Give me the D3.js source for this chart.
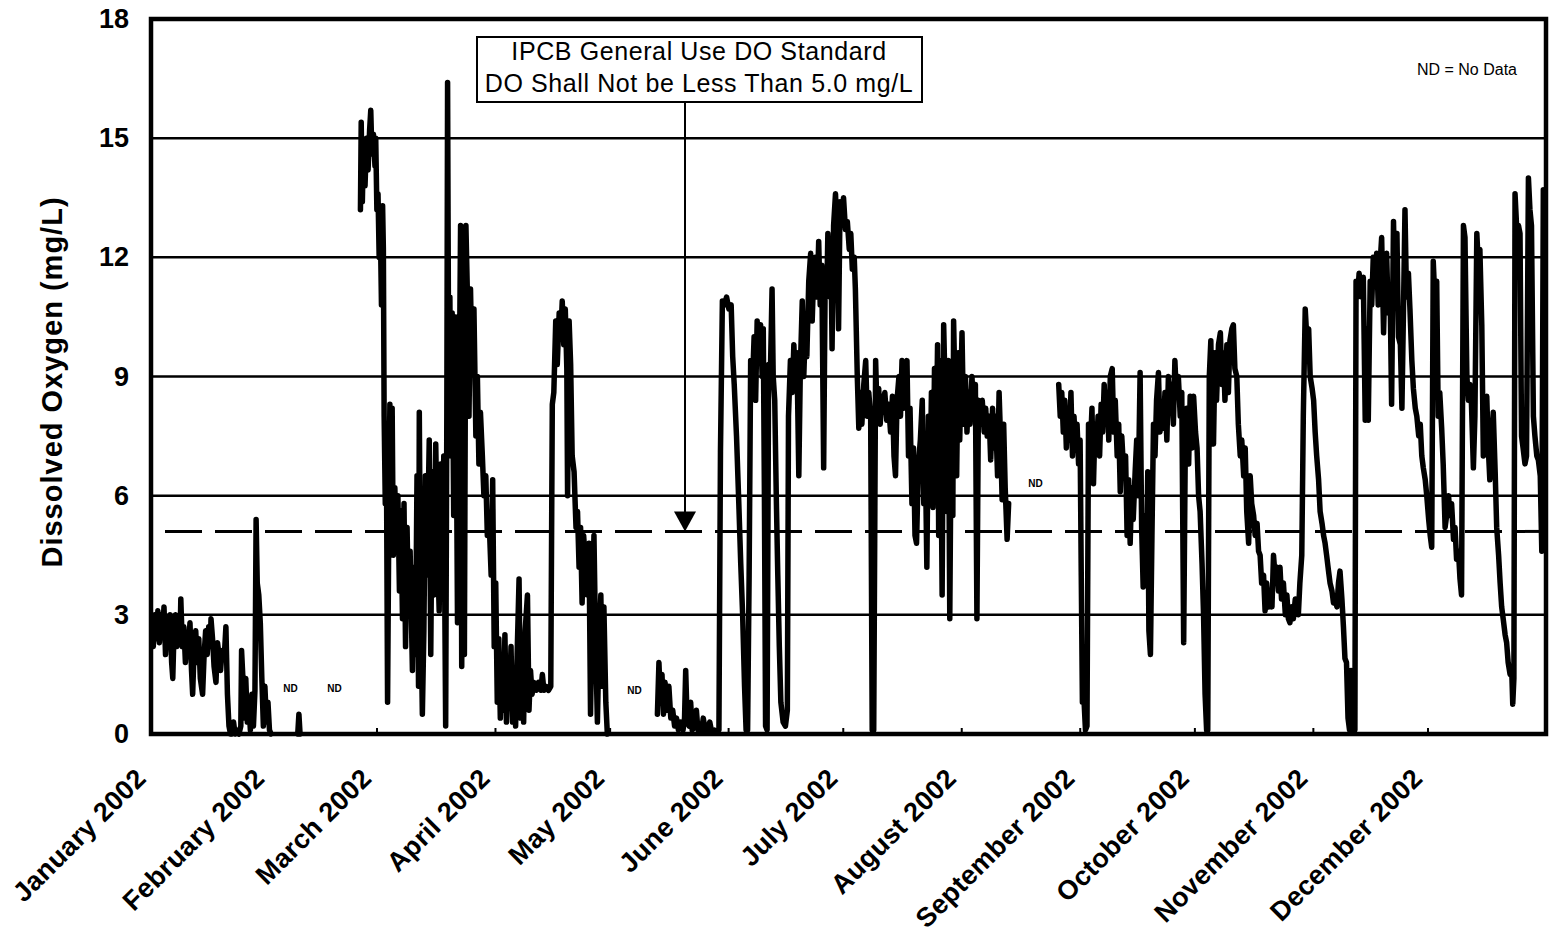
<!DOCTYPE html>
<html>
<head>
<meta charset="utf-8">
<script src="https://cdn.jsdelivr.net/npm/d3@7"></script>
<style>
  body { margin: 0; background: #fff; }
  svg { display: block; font-family: "Liberation Sans", Arial, Helvetica, sans-serif; }
</style>
</head>
<body>
<script>
var monthLabels = ['January 2002', 'February 2002', 'March 2002', 'April 2002', 'May 2002', 'June 2002',
    'July 2002', 'August 2002', 'September 2002', 'October 2002', 'November 2002', 'December 2002']
var yTicks = [0, 3, 6, 9, 12, 15, 18]
var gridValues = [3, 6, 9, 12, 15]
var standardDO = 5.1

// where the "ND" notes sit (day of year, mg/L)
var ndDays = [36.5, 48.0, 126.5, 231.4]
var ndValues = [1.15, 1.15, 1.1, 6.3]

// DO readings as [day of 2002, mg/L], one array per unbroken record
var janRecord = [[0.2,2.6],[0.6,2.2],[1,3.0],[1.4,2.4],[1.8,3.1],[2.2,2.3],[2.6,3.0],[3,2.5],[3.4,3.2],[3.8,2.0],[4.2,2.9],[4.6,2.3],[5,3.0],[5.4,1.8],[5.7,1.4],[6,2.5],[6.4,3.0],[6.8,2.2],[7.2,2.8],[7.6,2.4],[7.8,3.4],[8.2,2.2],[8.6,2.7],[9,1.8],[9.4,2.4],[9.8,2.2],[10.2,2.8],[10.6,1.6],[10.9,1.0],[11.3,2.2],[11.7,2.6],[12.1,1.8],[12.5,2.4],[12.9,1.4],[13.5,1.0],[13.9,2.0],[14.3,2.6],[14.7,2.0],[15.1,2.7],[15.5,2.2],[15.7,2.9],[16.1,2.4],[16.5,1.7],[17,1.3],[17.4,2.3],[17.8,2.0],[18.2,1.6],[18.6,2.1],[19.2,2.0],[19.6,2.7],[20,1.0],[20.4,0.2],[20.8,0],[21.2,0],[21.6,0.3],[22,0],[22.4,0.1],[23,0],[23.5,0.2],[23.7,2.1],[24,1.5],[24.4,0.4],[24.8,1.4],[25.2,0.3],[25.6,0.8],[26,0.1],[26.4,1.0],[26.8,0.2],[27.2,1.1],[27.5,5.4],[27.8,3.8],[28.2,3.5],[28.6,2.8],[29,1.4],[29.4,0.2],[29.8,1.2],[30.2,0.3],[30.6,0.8],[31,0.1],[31.4,0]]

var febRecord = [[38.4,0],[38.7,0.5],[39,0]]

var marAprRecord = [[54.8,13.2],[55,15.4],[55.3,13.4],[55.6,14.8],[56,13.8],[56.4,15.0],[56.8,14.2],[57.2,15.2],[57.5,15.7],[57.8,14.6],[58.2,15.1],[58.6,14.3],[58.8,15.0],[59.1,13.2],[59.4,13.6],[59.7,12.0],[60,12.8],[60.3,10.8],[60.6,13.3],[60.8,12.2],[61,8.0],[61.3,5.8],[61.6,6.9],[61.9,0.8],[62.2,5.0],[62.5,8.3],[62.8,6.2],[63.1,8.2],[63.4,4.5],[63.8,6.2],[64.2,4.8],[64.6,6.0],[65,3.6],[65.4,5.6],[65.8,2.9],[66.2,5.8],[66.6,2.2],[67,5.2],[67.4,3.0],[67.8,4.6],[68.4,1.6],[68.8,4.2],[69.2,2.0],[69.6,6.5],[70,1.2],[70.2,8.1],[70.5,3.8],[71,0.5],[71.4,2.6],[71.8,6.5],[72.2,4.0],[72.8,7.4],[73.2,2.0],[73.6,6.6],[74,3.5],[74.5,7.3],[75,4.5],[75.4,3.1],[75.8,6.8],[76.2,4.0],[76.6,7.0],[77.1,0.2],[77.4,8.0],[77.6,16.4],[77.9,8.5],[78.2,11.0],[78.5,7.0],[78.8,10.6],[79.2,5.5],[79.7,10.5],[80.2,2.8],[80.6,8.0],[81,12.8],[81.3,1.7],[81.7,11.0],[82,2.0],[82.4,12.8],[82.8,11.0],[83.2,8.0],[83.6,11.2],[84,9.2],[84.5,10.7],[85,7.5],[85.4,9.0],[85.8,6.8],[86.2,8.1],[86.7,7.0],[87.1,6.0],[87.6,6.5],[88,5.0],[88.5,5.3],[89,4.0],[89.4,6.4],[89.8,2.2],[90.2,3.8],[90.6,0.8],[91,2.4],[91.4,0.4],[91.8,1.8],[92.2,0.6],[92.6,2.5],[93,0.3],[93.4,1.6],[93.8,0.9],[94.2,2.2],[94.6,0.3],[95,1.4],[95.4,0.2],[95.8,2.0],[96.3,3.9],[96.7,0.4],[97.1,1.8],[97.5,0.3],[97.9,2.6],[98.5,3.5],[98.9,0.6],[99.3,1.6],[99.7,1.0],[100.2,1.3],[100.8,1.1],[101.4,1.3],[102,1.1],[102.4,1.5],[102.8,1.1],[103.4,1.2],[104,1.1],[104.6,1.2],[105,8.3],[105.4,8.6],[105.9,10.4],[106.3,9.3],[106.8,10.6],[107.2,10.0],[107.6,10.9],[108,9.8],[108.4,10.7],[108.8,9.2],[109,6.0],[109.4,10.4],[109.8,9.3],[110.2,7.0],[110.7,6.6],[111.2,5.2],[111.6,5.6],[112,4.2],[112.4,5.2],[112.8,3.3],[113.2,5.0],[113.6,4.4],[114.2,3.5],[114.6,4.8],[115,0.5],[115.4,2.8],[115.9,5.0],[116.3,2.5],[116.8,0.3],[117.2,2.2],[117.7,3.5],[118.1,1.2],[118.5,3.2],[119,0.8],[119.4,0]]

var mayAugRecord = [[132.5,0.5],[132.9,1.8],[133.3,0.8],[133.7,1.5],[134.1,0.5],[134.5,1.3],[135,0.6],[135.5,1.2],[136,0.4],[136.5,0.6],[137,0.2],[137.5,0.4],[138,0.1],[138.6,0.3],[139.2,0.1],[139.6,0.4],[139.9,1.6],[140.3,0.3],[140.8,0.2],[141.2,0.8],[141.6,0.1],[142.2,0.2],[142.7,0.6],[143.1,0.1],[143.6,0.2],[144.1,0.1],[144.5,0.4],[145,0.1],[145.6,0.1],[146.2,0.3],[146.7,0.05],[147.4,0.1],[148,0.05],[148.6,0.1],[149,7.1],[149.5,10.9],[150,10.8],[150.6,11.0],[151.2,10.7],[151.8,10.8],[152.2,9.5],[152.6,8.8],[153.2,7.5],[153.8,5.8],[154.3,4.3],[154.8,3.0],[155.3,1.2],[155.7,0.1],[156.1,0.1],[156.5,4.0],[156.9,9.4],[157.3,8.6],[157.8,10.0],[158.2,8.4],[158.6,10.4],[159,9.4],[159.5,10.3],[159.9,9.0],[160.2,10.2],[160.5,6.0],[160.8,0.2],[161.2,0.1],[161.6,9.3],[162,8.8],[162.5,11.2],[162.8,9.0],[163.2,8.4],[163.6,6.0],[164,4.0],[164.4,2.2],[164.8,0.8],[165.4,0.3],[166,0.2],[166.5,0.6],[166.8,8.0],[167.3,9.4],[167.8,8.6],[168.2,9.8],[168.6,8.8],[169,9.6],[169.5,6.5],[169.9,9.2],[170.4,10.9],[170.8,9.0],[171.2,10.2],[171.6,9.5],[172.1,11.4],[172.6,12.1],[173,10.4],[173.4,11.6],[173.9,12.0],[174.3,11.0],[174.7,12.4],[175.1,10.8],[175.5,11.8],[176,6.7],[176.4,11.5],[176.8,11.0],[177.1,12.6],[177.5,11.5],[177.9,12.2],[178.2,9.7],[178.6,12.8],[179.1,13.6],[179.5,12.6],[179.9,10.2],[180.3,13.4],[180.7,12.8],[181.2,13.5],[181.7,12.7],[182.2,12.9],[182.7,12.2],[183.1,12.6],[183.5,11.7],[184,12.0],[184.3,11.2],[184.8,9.0],[185.2,7.7],[185.6,8.6],[186,7.8],[186.5,8.8],[187,9.4],[187.4,8.0],[187.8,8.6],[188.3,8.0],[188.7,0.1],[189.1,0.1],[189.6,9.4],[190,8.0],[190.4,8.7],[190.8,7.8],[191.2,8.5],[191.6,8.1],[192,8.6],[192.5,7.9],[193,8.3],[193.5,7.6],[194,8.5],[194.4,7.0],[194.8,6.5],[195.2,8.4],[195.7,9.0],[196.1,8.0],[196.5,9.4],[196.9,8.2],[197.3,9.0],[197.8,9.4],[198.2,7.0],[198.6,8.2],[199.1,5.8],[199.5,7.2],[199.9,5.0],[200.3,4.8],[200.8,6.8],[201.3,7.4],[201.8,8.4],[202.2,5.8],[202.6,7.0],[203,4.2],[203.4,8.0],[203.8,6.0],[204.2,8.6],[204.6,5.7],[205,9.2],[205.4,6.8],[205.8,9.8],[206.1,5.0],[206.5,9.4],[207,3.5],[207.4,10.3],[207.8,8.6],[208.2,5.6],[208.6,9.4],[209,2.9],[209.4,8.2],[209.8,5.5],[210,10.4],[210.4,8.5],[210.8,6.5],[211.2,9.6],[211.6,7.4],[212.2,10.1],[212.6,7.8],[213.1,9.0],[213.5,7.6],[213.9,8.6],[214.3,7.8],[214.8,9.0],[215.2,8.2],[215.7,8.8],[216.1,2.9],[216.5,8.4],[217,7.8],[217.5,8.4],[218,7.6],[218.4,8.2],[218.8,7.5],[219.3,8.0],[219.7,6.9],[220.2,8.2],[220.6,7.2],[221,8.0],[221.5,6.5],[221.9,8.6],[222.3,7.4],[222.7,5.9],[223.1,7.8],[223.5,6.2],[224,4.9],[224.4,5.8]]

var sepDecRecord = [[237.5,8.8],[237.9,8.0],[238.3,8.6],[238.7,7.6],[239.1,8.4],[239.5,7.2],[239.9,8.2],[240.3,7.4],[240.7,8.6],[241.1,7.0],[241.5,8.0],[241.9,7.2],[242.3,7.8],[242.7,6.8],[243.1,7.4],[243.4,4.0],[243.7,0.8],[244.1,0.9],[244.5,0.1],[244.9,0.2],[245.3,7.8],[245.7,7.0],[246.2,8.2],[246.6,6.3],[247,7.8],[247.4,7.2],[247.8,8.0],[248.2,7.0],[248.6,8.3],[249,7.6],[249.4,8.8],[249.8,7.8],[250.2,8.6],[250.6,7.4],[251,9.0],[251.5,9.2],[251.9,7.6],[252.3,8.4],[252.8,7.0],[253.2,7.8],[253.6,6.1],[254,7.5],[254.5,6.6],[255,7.0],[255.4,5.0],[255.8,6.4],[256.2,4.8],[256.6,6.2],[257,5.4],[257.5,6.6],[257.9,7.4],[258.3,6.0],[258.8,9.1],[259.2,5.2],[259.6,3.7],[260,5.5],[260.4,3.8],[260.8,6.6],[261.1,2.6],[261.5,2.0],[261.9,5.0],[262.3,7.8],[262.7,7.0],[263.1,8.4],[263.6,9.1],[264,7.6],[264.5,8.2],[264.9,7.7],[265.3,8.6],[265.8,7.4],[266.2,9.0],[266.6,8.1],[267,8.8],[267.5,7.8],[267.9,9.4],[268.3,8.5],[268.8,9.0],[269.3,8.0],[269.7,8.6],[270.2,2.3],[270.6,7.0],[271,8.2],[271.5,6.8],[271.9,8.5],[272.4,7.2],[272.8,8.5],[273.3,7.6],[273.7,7.2],[274.1,6.0],[274.5,5.6],[275,4.3],[275.4,3.0],[275.8,1.0],[276.2,0.1],[276.5,0.1],[276.9,9.0],[277.3,9.9],[277.6,8.0],[278,7.3],[278.4,9.6],[278.8,8.4],[279.3,9.8],[279.8,10.1],[280.2,8.8],[280.6,9.6],[281,8.4],[281.5,9.8],[281.9,8.6],[282.3,9.9],[282.8,10.2],[283.2,10.3],[283.6,9.2],[284.1,9.0],[284.5,7.8],[285,7.0],[285.4,7.4],[285.9,6.5],[286.3,7.2],[286.7,5.6],[287.2,4.8],[287.6,6.5],[288,5.8],[288.5,5.5],[288.9,5.0],[289.4,5.3],[289.8,4.6],[290.2,4.5],[290.6,3.8],[291.1,4.0],[291.5,3.1],[291.9,3.8],[292.4,3.2],[292.8,3.6],[293.3,3.2],[293.7,4.5],[294.1,4.0],[294.6,4.2],[295,3.6],[295.4,4.2],[295.8,3.4],[296.3,3.8],[296.8,3.0],[297.2,3.5],[297.6,2.9],[298,2.8],[298.5,3.2],[298.9,2.9],[299.4,3.4],[299.8,3.3],[300.2,3.0],[300.6,3.8],[301.1,4.5],[301.5,8.0],[302,10.7],[302.4,10.0],[302.9,10.2],[303.3,9.0],[303.8,8.7],[304.2,8.4],[304.6,7.6],[305,7.0],[305.5,6.4],[305.9,5.6],[306.4,5.3],[306.8,5.0],[307.2,4.8],[307.6,4.5],[308.1,4.1],[308.5,3.8],[309,3.6],[309.4,3.3],[309.8,3.4],[310.3,3.2],[310.7,3.8],[311.1,4.1],[311.6,3.4],[312,2.7],[312.4,1.9],[312.8,1.8],[313.2,0.4],[313.6,0.1],[314,1.6],[314.4,0.1],[314.8,0.2],[315,0.1],[315.3,11.4],[315.7,11.0],[316.1,11.6],[316.5,11.2],[316.8,11.0],[317.2,11.5],[317.7,7.9],[318.1,10.2],[318.5,7.9],[319,11.4],[319.4,10.8],[319.8,12.0],[320.3,11.4],[320.7,12.1],[321.1,10.8],[321.5,11.7],[322,12.5],[322.5,10.1],[322.9,11.6],[323.3,12.1],[323.7,10.6],[324.2,11.2],[324.6,8.3],[325.1,12.9],[325.5,11.0],[326,12.6],[326.4,10.0],[326.9,9.8],[327.3,8.2],[327.7,10.6],[328.1,13.2],[328.5,11.0],[329,11.6],[329.4,10.7],[329.9,9.4],[330.3,8.7],[330.8,8.2],[331.2,8.0],[331.7,7.5],[332.1,7.8],[332.5,7.0],[332.9,6.7],[333.4,6.4],[333.8,6.0],[334.3,5.4],[334.7,5.0],[335.1,4.7],[335.5,11.9],[335.9,11.0],[336.4,11.4],[336.8,8.0],[337.2,8.6],[337.7,7.7],[338.1,6.8],[338.6,5.2],[339,5.5],[339.5,6.0],[339.9,5.5],[340.3,5.8],[340.8,4.9],[341.2,5.2],[341.6,4.4],[342.1,4.6],[342.5,3.9],[342.9,3.5],[343.4,12.8],[343.8,12.5],[344.3,9.0],[344.7,8.4],[345.1,8.8],[345.5,8.3],[346,6.7],[346.4,8.0],[346.9,12.6],[347.3,11.8],[347.7,12.2],[348.2,10.3],[348.6,7.0],[349,7.8],[349.5,8.5],[349.9,7.2],[350.3,6.4],[350.8,7.4],[351.2,8.1],[351.7,6.6],[352.1,5.2],[352.6,4.5],[353,3.8],[353.4,3.2],[353.8,2.9],[354.3,2.5],[354.7,2.3],[355.1,1.8],[355.6,1.5],[356,1.7],[356.3,0.75],[356.6,1.4],[356.9,13.6],[357.3,12.8],[357.8,12.8],[358.2,12.6],[358.6,7.5],[359,7.2],[359.5,6.8],[359.9,7.0],[360.4,14.0],[360.8,13.2],[361.2,12.8],[361.7,8.0],[362.1,7.5],[362.6,7.0],[363,6.9],[363.5,6.5],[363.9,4.6],[364.3,13.7],[364.8,13.2]]

var records = [janRecord, febRecord, marAprRecord, mayAugRecord, sepDecRecord]

var margin = { top: 19, left: 151, right: 4, bottom: 200 },
    width = 1550, height = 934

var yearStart = new Date(2002, 0, 1)
function dayToDate(d) { return new Date(yearStart.getTime() + d * 864e5) }

var x = d3.scaleTime()
    .domain([yearStart, new Date(2003, 0, 1)])
    .range([margin.left, width - margin.right])

var y = d3.scaleLinear()
    .domain([0, 18])
    .range([height - margin.bottom, margin.top])

var svg = d3.select('body')
    .append('svg')
    .attr('width', width)
    .attr('height', height)

svg.append('rect')
    .attr('width', width)
    .attr('height', height)
    .attr('fill', '#fff')

// horizontal grid
svg.append('g')
    .selectAll('line')
    .data(gridValues)
    .enter().append('line')
    .attr('x1', x.range()[0])
    .attr('x2', x.range()[1])
    .attr('y1', function (d) { return y(d) })
    .attr('y2', function (d) { return y(d) })
    .attr('stroke', '#000')
    .attr('stroke-width', 2.5)

// 5 mg/L standard
svg.append('line')
    .attr('x1', x.range()[0] + 1)
    .attr('x2', x.range()[1])
    .attr('y1', y(standardDO))
    .attr('y2', y(standardDO))
    .attr('stroke', '#000')
    .attr('stroke-width', 3)
    .attr('stroke-dasharray', '37,13')
    .attr('stroke-dashoffset', 37)

var line = d3.line()
    .x(function (d) { return x(dayToDate(d[0])) })
    .y(function (d) { return y(d[1]) })

svg.append('g')
    .selectAll('path')
    .data(records)
    .enter().append('path')
    .attr('d', line)
    .attr('fill', 'none')
    .attr('stroke', '#000')
    .attr('stroke-width', 5.5)
    .attr('stroke-linejoin', 'round')
    .attr('stroke-linecap', 'round')

// y axis labels
var yAxis = d3.axisLeft(y)
    .tickValues(yTicks)
    .tickSize(0)
    .tickPadding(22)
var gy = svg.append('g')
    .attr('transform', 'translate(' + margin.left + ',0)')
    .call(yAxis)
gy.select('.domain').remove()
gy.selectAll('text')
    .attr('font-size', 27)
    .attr('font-weight', 'bold')
    .attr('font-family', '"Liberation Sans", Arial, sans-serif')
    .attr('fill', '#000')

// months
var monthTicks = d3.timeMonth.range(yearStart, new Date(2003, 0, 1))
var xAxis = d3.axisBottom(x)
    .tickValues(monthTicks)
    .tickFormat(function (d, i) { return monthLabels[i] })
    .tickSizeInner(-6)
    .tickSizeOuter(0)
var gx = svg.append('g')
    .attr('transform', 'translate(0,' + y(0) + ')')
    .call(xAxis)
gx.select('.domain').remove()
gx.selectAll('line').attr('stroke', '#000').attr('stroke-width', 2)
gx.selectAll('text')
    .attr('x', 0).attr('y', 0).attr('dy', 0)
    .attr('transform', 'translate(-4,46) rotate(-45)')
    .style('text-anchor', 'end')
    .style('letter-spacing', '0.3px')
    .attr('font-size', 27)
    .attr('font-weight', 'bold')
    .attr('font-family', '"Liberation Sans", Arial, sans-serif')
    .attr('fill', '#000')

// frame
svg.append('rect')
    .attr('x', x.range()[0])
    .attr('y', y.range()[1])
    .attr('width', x.range()[1] - x.range()[0])
    .attr('height', y.range()[0] - y.range()[1])
    .attr('fill', 'none')
    .attr('stroke', '#000')
    .attr('stroke-width', 4.5)

svg.append('text')
    .attr('transform', 'translate(62,382) rotate(-90)')
    .attr('text-anchor', 'middle')
    .attr('font-size', 29)
    .attr('font-weight', 'bold')
    .style('letter-spacing', '1px')
    .text('Dissolved Oxygen (mg/L)')

// ND markers
svg.append('g')
    .selectAll('text')
    .data(ndDays)
    .enter().append('text')
    .attr('x', function (d) { return x(dayToDate(d)) })
    .attr('y', function (d, i) { return y(ndValues[i]) })
    .attr('dy', '0.35em')
    .attr('text-anchor', 'middle')
    .attr('font-size', 10)
    .attr('font-weight', 'bold')
    .text('ND')

svg.append('text')
    .attr('x', 1467)
    .attr('y', 75)
    .attr('text-anchor', 'middle')
    .attr('font-size', 16)
    .text('ND = No Data')

// standard callout
var callout = svg.append('g')
callout.append('rect')
    .attr('x', 477).attr('y', 37)
    .attr('width', 445).attr('height', 65)
    .attr('fill', '#fff')
    .attr('stroke', '#000')
    .attr('stroke-width', 2)
callout.append('text')
    .attr('x', 699).attr('y', 60)
    .attr('text-anchor', 'middle')
    .attr('font-size', 25)
    .style('letter-spacing', '0.6px')
    .text('IPCB General Use DO Standard')
callout.append('text')
    .attr('x', 699).attr('y', 92)
    .attr('text-anchor', 'middle')
    .attr('font-size', 25)
    .style('letter-spacing', '0.6px')
    .text('DO Shall Not be Less Than 5.0 mg/L')
callout.append('line')
    .attr('x1', 685).attr('x2', 685)
    .attr('y1', 102).attr('y2', y(standardDO) - 18)
    .attr('stroke', '#000')
    .attr('stroke-width', 2)
callout.append('path')
    .attr('d', 'M674,' + (y(standardDO) - 20) + 'L696,' + (y(standardDO) - 20) + 'L685,' + y(standardDO) + 'Z')
    .attr('fill', '#000')
</script>
</body>
</html>
